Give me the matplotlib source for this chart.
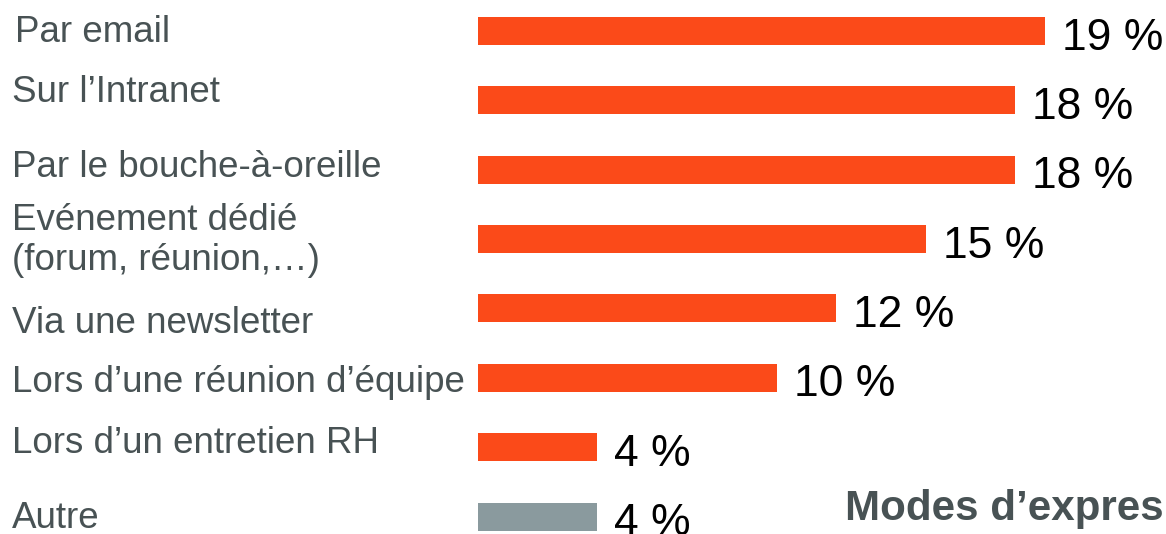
import matplotlib
matplotlib.use("Agg")
import matplotlib.pyplot as plt

# data
categories = [
    "Par email",
    "Sur l\u2019Intranet",
    "Par le bouche-\u00e0-oreille",
    "Ev\u00e9nement d\u00e9di\u00e9\n(forum, r\u00e9union,\u2026)",
    "Via une newsletter",
    "Lors d\u2019une r\u00e9union d\u2019\u00e9quipe",
    "Lors d\u2019un entretien RH",
    "Autre",
]
values = [19, 18, 18, 15, 12, 10, 4, 4]
value_labels = ["19 %", "18 %", "18 %", "15 %", "12 %", "10 %", "4 %", "4 %"]

# styling
ORANGE = "#FB4A19"
GREY_BAR = "#8A9A9E"
TEXT_GREY = "#485254"
bar_colors = [ORANGE] * 7 + [GREY_BAR]
# how far each category label's (last line) baseline sits below its bar centre (pixels)
label_nudge = [11, 2, 7, 31, 24.5, 14, 5.5, 11.5]
label_x = [15, 12, 12, 12, 12, 12, 12, 12]

plt.rcParams["font.family"] = ["Liberation Sans", "DejaVu Sans"]

W, H = 1166, 534
fig = plt.figure(figsize=(W / 100, H / 100), dpi=100)
fig.patch.set_facecolor("white")

# axes covers the bar region, from the bar origin to the right edge
x0 = 478
ax = fig.add_axes([x0 / W, 0, 1 - x0 / W, 1])
ax.set_xlim(0, (W - x0) / 29.85)
ax.set_ylim(7.252, -0.447)
ax.axis("off")

ypos = list(range(len(categories)))
ax.barh(ypos, values, height=0.404, color=bar_colors, align="center")

for i, (v, lab) in enumerate(zip(values, value_labels)):
    ax.annotate(lab, xy=(v, i), xycoords="data",
                xytext=(17, -18.5), textcoords="offset pixels",
                ha="left", va="baseline", fontsize=32, color="black",
                annotation_clip=False)

for i, cat in enumerate(categories):
    ax.annotate(cat, xy=(label_x[i], i), xycoords=("figure pixels", "data"),
                xytext=(0, -label_nudge[i]), textcoords="offset pixels",
                ha="left", va="baseline", fontsize=26.5, color=TEXT_GREY,
                linespacing=1.17, annotation_clip=False)

fig.text(845 / W, 1 - 520 / H, "Modes d\u2019expres", ha="left", va="baseline",
         fontsize=30.3, fontweight="bold", color=TEXT_GREY)

fig.savefig("out.png", dpi=100)
